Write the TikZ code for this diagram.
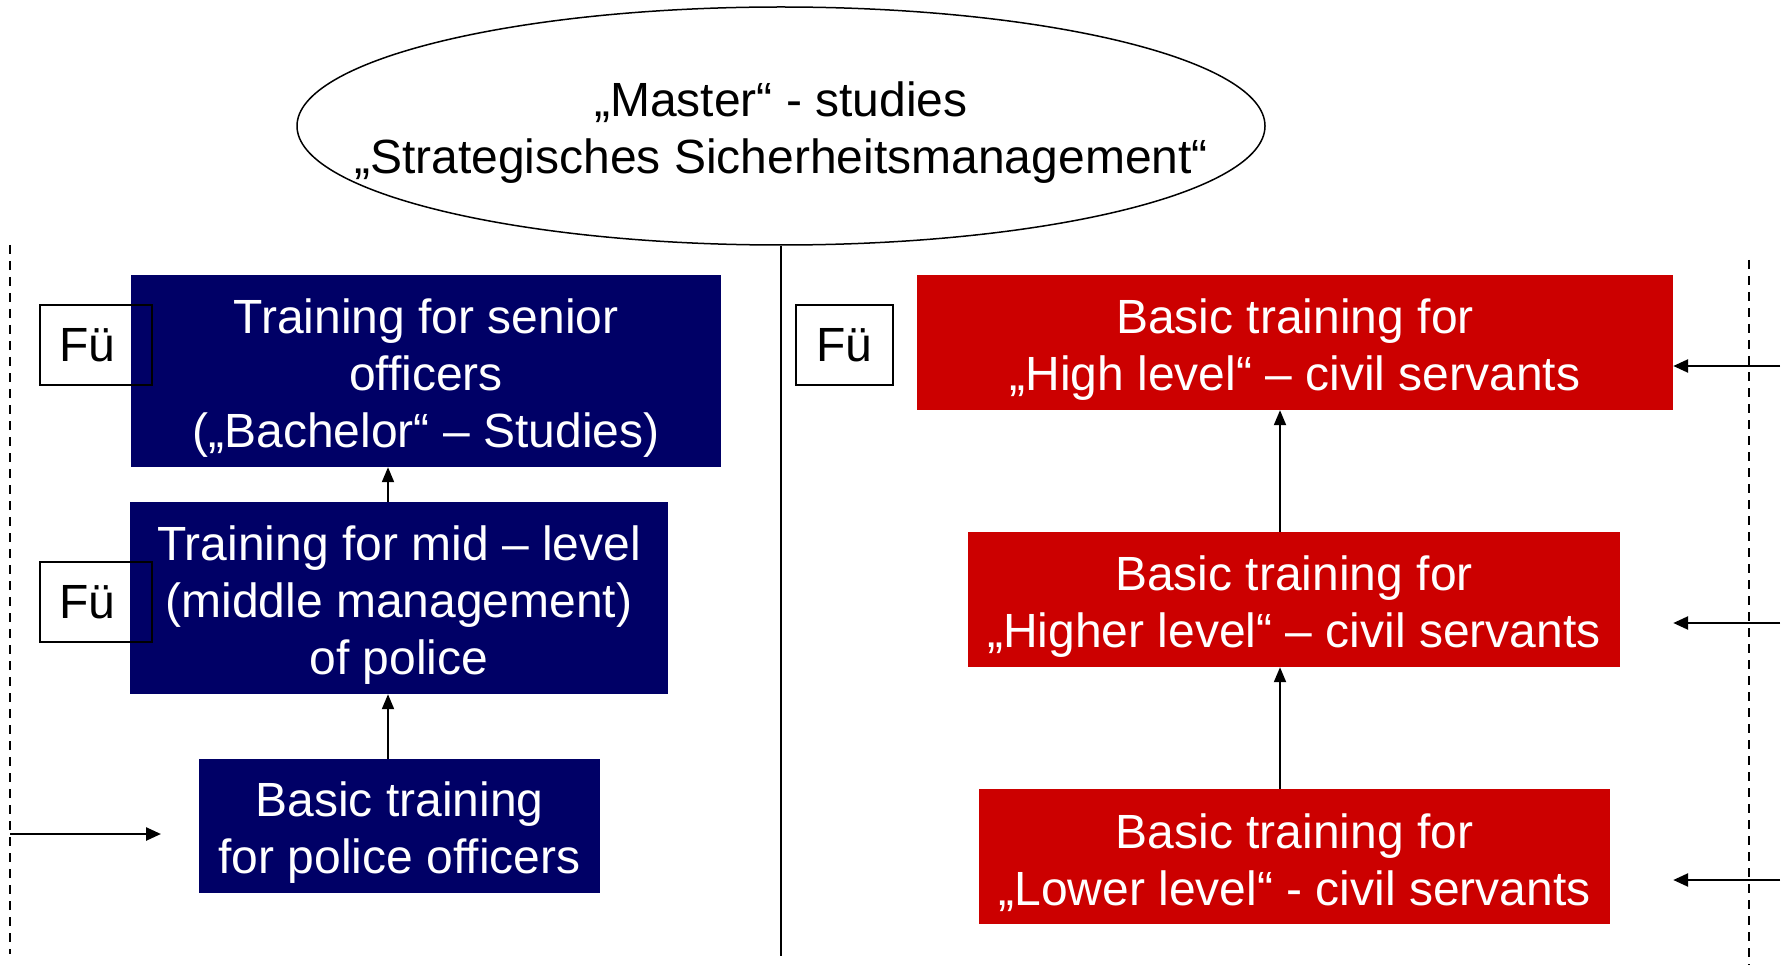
\documentclass[tikz,border=0pt]{standalone}
\usepackage{fontspec}
\setmainfont{Liberation Sans}
\usetikzlibrary{shapes.geometric,arrows.meta}
\definecolor{navybox}{HTML}{000066}
\definecolor{redbox}{HTML}{CC0000}
\newcommand{\toppad}{\rule{0pt}{48pt}}
\begin{document}
\begin{tikzpicture}[x=1pt,y=-1pt,
  txt/.style={font=\fontsize{48}{57}\selectfont, align=center, inner sep=0pt},
  bluebox/.style={txt, rectangle, fill=navybox, text=white},
  redbx/.style={txt, rectangle, fill=redbox, text=white},
  fubox/.style={txt, rectangle, draw=black, line width=1.5pt, minimum height=80pt},
  arr/.style={line width=2pt, -{Triangle[length=15pt,width=12pt]}},
  sidearr/.style={line width=2.5pt, -{Triangle[length=15pt,width=13pt]}},
  sep/.style={line width=1.3pt, dash pattern=on 9pt off 7pt},
]
\useasboundingbox (0,0) rectangle (1785,965);

% Master ellipse
\node[ellipse, draw=black, line width=1.5pt, inner sep=0pt, minimum width=968pt, minimum height=238pt] (master) at (781,126) {};
\node[txt] (mastertxt) at (master.center) {\toppad„Master“ - studies\\„Strategisches Sicherheitsmanagement“};
\coordinate (mid) at (781,956);
\draw[line width=1.6pt] (master.south) -- (mid);

% separators
\coordinate (lt) at (10,245);
\coordinate (lb) at (10,954);
\coordinate (rt) at (1749,260);
\coordinate (rb) at (1749,965);
\draw[sep] (lt) -- (lb);
\draw[sep] (rt) -- (rb);

% left (police) boxes
\node[bluebox, minimum width=590pt, minimum height=192pt] (b1) at (426,371)
  {\toppad Training for senior\\officers\\(„Bachelor“ – Studies)};
\node[bluebox, minimum width=538pt, minimum height=192pt] (b2) at (399,598)
  {\toppad Training for mid – level\\(middle management)\\of police};
\node[bluebox, minimum width=401pt, minimum height=134pt] (b3) at (399.5,826)
  {\toppad Basic training\\for police officers};

\node[fubox, text width=74pt, inner xsep=19pt, align=left] (f1) at (96,345) {Fü};
\node[fubox, text width=74pt, inner xsep=19pt, align=left] (f2) at (96,602) {Fü};

\coordinate (lx) at (388,0);
\draw[arr] (b3.north -| lx) -- (b2.south -| lx);
\draw[arr] (b2.north -| lx) -- (b1.south -| lx);

\coordinate (lin) at (10,834);
\coordinate (lend) at (161,834);
\draw[sidearr] (lin) -- (lend);

% right (civil servants) boxes
\node[redbx, minimum width=756pt, minimum height=135pt] (r1) at (1295,342.5)
  {\toppad Basic training for\\„High level“ – civil servants};
\node[redbx, minimum width=652pt, minimum height=135pt] (r2) at (1294,599.5)
  {\toppad Basic training for\\„Higher level“ – civil servants};
\node[redbx, minimum width=631pt, minimum height=135pt] (r3) at (1294.5,856.5)
  {\toppad Basic training for\\„Lower level“ - civil servants};

\node[fubox, minimum width=97pt] (f3) at (844.5,345) {Fü};

\coordinate (rx) at (1280,0);
\draw[arr] (r3.north -| rx) -- (r2.south -| rx);
\draw[arr] (r2.north -| rx) -- (r1.south -| rx);

\coordinate (rin1) at (1780,366);
\coordinate (rin2) at (1780,623);
\coordinate (rin3) at (1780,880);
\draw[sidearr] (rin1) -- (rin1 -| r1.east);
\draw[sidearr] (rin2) -- (rin2 -| r1.east);
\draw[sidearr] (rin3) -- (rin3 -| r1.east);
\end{tikzpicture}
\end{document}
